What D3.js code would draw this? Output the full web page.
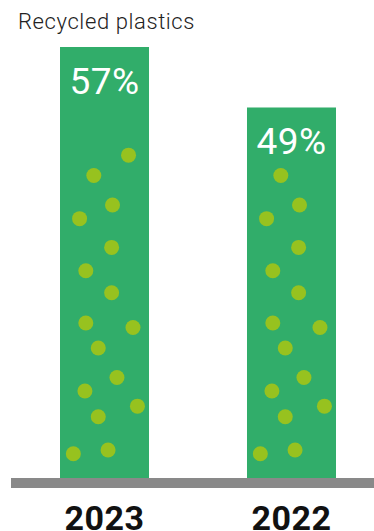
<!DOCTYPE html>
<html>
<head>
<meta charset="utf-8">
<script src="https://cdn.jsdelivr.net/npm/d3@7"></script>
<style>
  body { margin: 0; background: #fff; }
  svg { display: block; }
</style>
</head>
<body>
<svg id="chart" width="374" height="531"></svg>
<script>
// data
const years = ["2023", "2022"]
const shares = [57, 49]
const title = "Recycled plastics"

// decorative dot pattern: [fraction of bar width, height above baseline in % units]
const dotPattern = [
  [0.77, 42.7], [0.38, 40.0], [0.59, 36.1], [0.22, 34.3],
  [0.58, 30.5], [0.29, 27.4], [0.58, 24.5], [0.29, 20.5],
  [0.82, 19.9], [0.43, 17.2], [0.64, 13.3], [0.28, 11.5],
  [0.87, 9.5], [0.43, 8.1], [0.15, 3.2], [0.54, 3.7]
]

const green = "#31ad6a"
const dotColor = "#97c21f"

const svg = d3.select("#chart")

const baseY = 478

const x = d3.scaleBand()
  .domain(years)
  .range([60, 336])
  .paddingInner(0.524)

const y = d3.scaleLinear()
  .domain([0, d3.max(shares)])
  .range([baseY, 47])

const rows = years.map((yr, i) => ({ year: yr, value: shares[i] }))

// title
svg.append("text")
  .attr("x", 18)
  .attr("y", 29)
  .attr("font-family", "Roboto, sans-serif")
  .attr("font-weight", 300)
  .attr("font-size", "22px")
  .attr("letter-spacing", "0.6px")
  .attr("fill", "#222")
  .text(title)

// bars
svg.selectAll("rect.bar")
  .data(rows)
  .enter()
  .append("rect")
    .attr("class", "bar")
    .attr("x", d => x(d.year))
    .attr("y", d => y(d.value))
    .attr("width", x.bandwidth())
    .attr("height", d => baseY - y(d.value))
    .attr("fill", green)

// dots inside bars, skipping the label area at the top
const dots = []
rows.forEach(d => {
  dotPattern.forEach(p => {
    if (p[1] < d.value - 7) dots.push({ year: d.year, fx: p[0], v: p[1] })
  })
})

svg.append("g")
  .selectAll("circle")
  .data(dots)
  .enter()
  .append("circle")
    .attr("cx", d => x(d.year) + d.fx * x.bandwidth())
    .attr("cy", d => y(d.v))
    .attr("r", 7.5)
    .attr("fill", dotColor)

// value labels
svg.append("g")
  .selectAll("text")
  .data(rows)
  .enter()
  .append("text")
    .attr("x", d => x(d.year) + x.bandwidth() / 2)
    .attr("y", d => y(d.value) + 46.5)
    .attr("text-anchor", "middle")
    .attr("font-family", "Roboto, sans-serif")
    .attr("font-size", "37px")
    .attr("letter-spacing", "0.5px")
    .attr("fill", "#fff")
    .text(d => d.value + "%")

// baseline
svg.append("rect")
  .attr("x", 11)
  .attr("y", baseY)
  .attr("width", 374 - 11)
  .attr("height", 10)
  .attr("fill", "#898989")

// year axis
const xAxis = d3.axisBottom(x).tickSize(0).tickPadding(0)
svg.append("g")
  .attr("transform", `translate(0, ${baseY + 10})`)
  .call(xAxis)
  .call(g => g.select(".domain").remove())
  .selectAll("text")
    .attr("dy", null)
    .attr("y", 42)
    .attr("font-family", "Roboto, sans-serif")
    .attr("font-weight", 700)
    .attr("font-size", "34px")
    .attr("letter-spacing", "0.5px")
    .attr("fill", "#111")
</script>
</body>
</html>
